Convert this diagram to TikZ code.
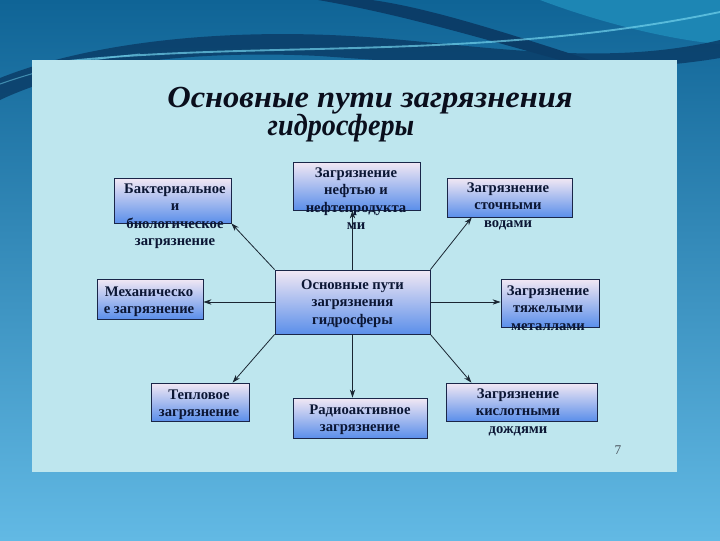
\documentclass[tikz,border=0pt]{standalone}
\usepackage{fontspec}
\setmainfont{Liberation Serif}
\usetikzlibrary{arrows.meta,calc}

\definecolor{slidetop}{HTML}{0F6496}
\definecolor{slidebot}{HTML}{62B9E4}
\definecolor{wavedark}{HTML}{0B3D68}
\definecolor{wavemid}{HTML}{1D86B4}
\definecolor{wavelight}{HTML}{72D2EC}
\definecolor{panel}{HTML}{BEE6EE}
\definecolor{boxtop}{HTML}{F2E8F4}
\definecolor{boxmid}{HTML}{B4C8F2}
\definecolor{boxbot}{HTML}{5B8FEA}
\definecolor{boxline}{HTML}{1A2648}
\definecolor{boxink}{HTML}{0B1634}
\definecolor{titleink}{HTML}{0A0E1C}
\definecolor{linkink}{HTML}{1A2632}

\tikzset{
  pathbox/.style={draw=boxline, line width=0.6pt, top color=boxtop, middle color=boxmid, bottom color=boxbot, inner sep=0pt},
  pathtext/.style={align=center, inner sep=0pt, text=boxink, font=\fontsize{11}{13}\selectfont\bfseries, execute at begin node=\strut},
  titletext/.style={inner sep=0pt, text=titleink, font=\fontsize{23}{26}\selectfont\bfseries\itshape},
  link/.style={draw=linkink, line width=0.6pt, -{Stealth[length=6pt,width=4pt]}},
}
\newcommand{\pathbox}[5]{\node[pathbox, minimum width=#4*0.75pt, minimum height=#5*0.75pt] (#1) at (#2,#3) {};}

\begin{document}
\begin{tikzpicture}[x=0.75pt,y=-0.75pt]
        \useasboundingbox (0,0) rectangle (720,540);
        % slide background
        \shade[top color=slidetop, bottom color=slidebot] (0,0) rectangle (720,540);
        \fill[wavemid] (540,0) .. controls (620,30) and (690,42) .. (720,44) -- (720,0) -- cycle;
        \fill[wavedark, opacity=0.85] (0,78) .. controls (90,42) and (230,26) .. (380,38) .. controls (500,48) and (610,66) .. (720,40) -- (720,58) .. controls (600,78) and (460,66) .. (320,56) .. controls (200,50) and (80,62) .. (0,100) -- cycle;
        \fill[wavedark] (318,0) .. controls (400,14) and (480,38) .. (560,60) -- (590,60) .. controls (510,34) and (430,8) .. (372,0) -- cycle;
        \draw[wavelight, line width=1.4pt, opacity=0.7] (60,62) .. controls (250,40) and (480,62) .. (720,12);
        \draw[wavelight, line width=0.8pt, opacity=0.5] (0,84) .. controls (40,70) and (80,60) .. (140,54);
        % panel
        \fill[panel] (32,60) rectangle (677,472);
        % title
        \node[titletext, anchor=base, xscale=1.06] (title1) at (370,107) {Основные пути загрязнения};
        \node[titletext, anchor=base, xscale=0.92] (title2) at (341,135) {гидросферы};
        % boxes
        \pathbox{bakt}{172.5}{200.5}{117}{45}
        \pathbox{neft}{356.5}{186}{127}{48}
        \pathbox{stoch}{509.5}{197.5}{125}{39}
        \pathbox{mech}{150}{299}{106}{40}
        \pathbox{cen}{352.5}{302}{155}{64}
        \pathbox{tyazh}{550}{303}{98}{48}
        \pathbox{tepl}{200}{402}{98}{38}
        \pathbox{radio}{360}{418}{134}{40}
        \pathbox{kisl}{521.5}{402}{151}{38}
        % connectors
        \draw[link] (cen.north west) -- (bakt.south east);
        \draw[link] (cen.north) -- (cen.north |- neft.south);
        \draw[link] (cen.north east) -- ($(stoch.south west)!0.2!(stoch.south east)$);
        \draw[link] (cen.west) -- (cen.west -| mech.east);
        \draw[link] (cen.east) -- (cen.east -| tyazh.west);
        \draw[link] (cen.south west) -- ($(tepl.north west)!0.83!(tepl.north east)$);
        \draw[link] (cen.south) -- (cen.south |- radio.north);
        \draw[link] (cen.south east) -- ($(kisl.north west)!0.17!(kisl.north east)$);
        % box texts
        \node[pathtext, anchor=north] (baktT) at (175,183.5) {Бактериальное\\и\\биологическое\\загрязнение};
        \node[pathtext, anchor=north] (neftT) at (356,167.5) {Загрязнение\\нефтью и\\нефтепродукта\\ми};
        \node[pathtext, anchor=north] (stochT) at (508,182.5) {Загрязнение\\сточными\\водами};
        \node[pathtext, anchor=north] (mechT) at (149,286.5) {Механическо\\е загрязнение};
        \node[pathtext, anchor=north] (cenT) at (352.5,279.5) {Основные пути\\загрязнения\\гидросферы};
        \node[pathtext, anchor=north] (tyazhT) at (548,285.5) {Загрязнение\\тяжелыми\\металлами};
        \node[pathtext, anchor=north] (teplT) at (199,389.5) {Тепловое\\загрязнение};
        \node[pathtext, anchor=north] (radioT) at (360,404.5) {Радиоактивное\\загрязнение};
        \node[pathtext, anchor=north] (kislT) at (518,388.5) {Загрязнение\\кислотными\\дождями};
        % page number
        \node[inner sep=0pt, text=linkink!80, font=\fontsize{10}{12}\selectfont] (pnum) at (618,450) {7};
\end{tikzpicture}
\end{document}
